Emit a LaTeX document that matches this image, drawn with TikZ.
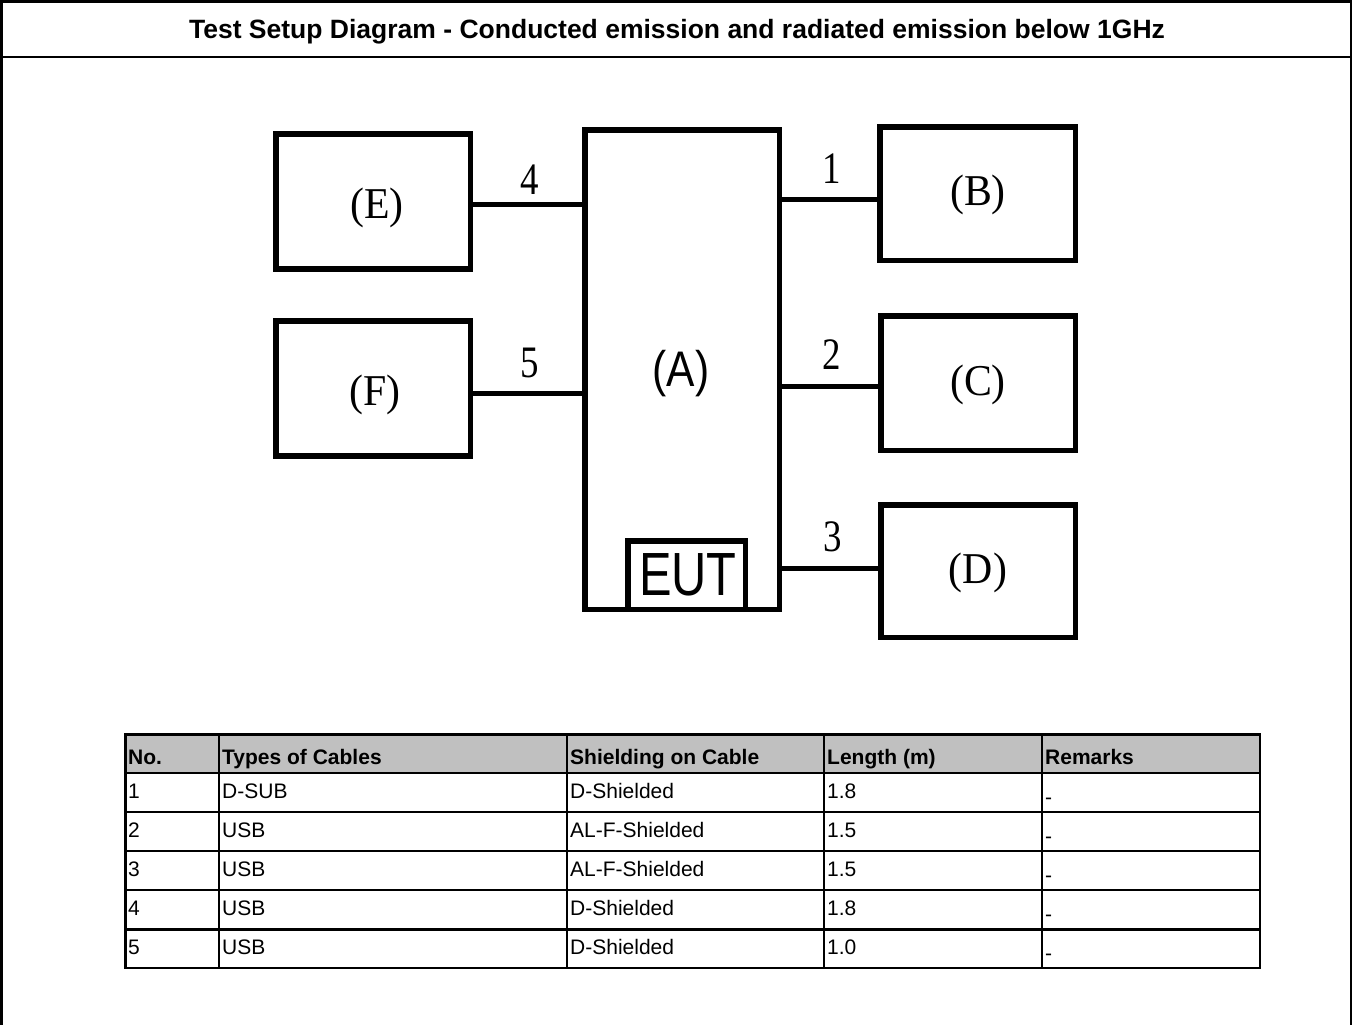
\documentclass[tikz,border=0pt]{standalone}
\usepackage{fontspec}
\setmainfont{Liberation Serif}
\newfontfamily\arial{Liberation Sans}
\definecolor{hdrgray}{RGB}{192,192,192}
\begin{document}
\begin{tikzpicture}[x=1pt,y=-1pt,
  box/.style={draw, line width=5.5pt, inner sep=0pt, minimum width=194.5pt, minimum height=135pt},
  lbl/.style={inner sep=0pt, xscale=0.95, font=\fontsize{44}{44}\selectfont},
  albl/.style={inner sep=0pt, xscale=0.85, font=\arial\fontsize{50}{50}\selectfont},
  eutlbl/.style={inner sep=0pt, xscale=0.8, font=\arial\fontsize{61}{61}\selectfont},
  num/.style={inner sep=0pt, xscale=0.82, font=\fontsize{45}{45}\selectfont},
  wire/.style={line width=5pt},
  grid/.style={line width=2.5pt},
  frame/.style={line width=2.5pt},
  hd/.style={anchor=base west, inner sep=0pt, font=\arial\bfseries\fontsize{21}{21}\selectfont},
  cell/.style={anchor=base west, inner sep=0pt, font=\arial\fontsize{21}{21}\selectfont},
]
\useasboundingbox (0,0) rectangle (1355,1025);
% outer frame
\draw[frame] (1.5,1025) -- (1.5,1.5) -- (1351,1.5) -- (1351,1025);
\draw[frame] (1.5,57) -- (1351,57);
\node[inner sep=0pt, font=\arial\bfseries\fontsize{26.5}{26.5}\selectfont] (title) at (677,32)
  {Test Setup Diagram - Conducted emission and radiated emission below 1GHz};

% boxes
\node[box] (E) at (373,201.5) {};
\node[box] (F) at (373,388.5) {};
\node[box, minimum height=479.5pt] (A) at (682,369.5) {};
\node[box, minimum height=133.5pt, minimum width=195.5pt] (B) at (977.5,193.5) {};
\node[box, minimum height=134.5pt] (C) at (978,383) {};
\node[box, minimum height=132.5pt] (D) at (978,571) {};
\node[draw, line width=5.5pt, inner sep=0pt, minimum width=117.5pt, minimum height=68.5pt] (EUT) at (686.5,575) {};

% labels
\node[lbl] (Et) at (377,208) {(E)};
\node[lbl] (Ft) at (375,395) {(F)};
\node[albl] (At) at (681,374) {(A)};
\node[lbl] (Bt) at (978,195) {(B)};
\node[lbl] (Ct) at (978,385) {(C)};
\node[lbl] (Dt) at (978,573) {(D)};
\node[eutlbl] (EUTt) at (688,575) {EUT};

% cable levels
\coordinate (y4) at (0,204);
\coordinate (y5) at (0,393);
\coordinate (y1) at (0,199);
\coordinate (y2) at (0,386);
\coordinate (y3) at (0,568);
\draw[wire] (E.east |- y4) -- (A.west |- y4);
\draw[wire] (F.east |- y5) -- (A.west |- y5);
\draw[wire] (A.east |- y1) -- (B.west |- y1);
\draw[wire] (A.east |- y2) -- (C.west |- y2);
\draw[wire] (A.east |- y3) -- (D.west |- y3);
\node[num] (n4) at (530,180) {4};
\node[num] (n5) at (530,363) {5};
\node[num] (n1) at (832,169) {1};
\node[num] (n2) at (832,355) {2};
\node[num] (n3) at (833,537) {3};

% table
\fill[hdrgray] (125.5,734.5) rectangle (1260,773);
\foreach \yy in {773,812,851,890,929.5}
  \draw[grid] (125.5,\yy) -- (1260,\yy);
\foreach \xx in {219,567,824,1042}
  \draw[grid] (\xx,734.5) -- (\xx,968);
\draw[grid] (125.5,734.5) rectangle (1260,968);

\node[hd] (h1) at (128,764) {No.};
\node[hd] (h2) at (222,764) {Types of Cables};
\node[hd] (h3) at (570,764) {Shielding on Cable};
\node[hd] (h4) at (827,764) {Length (m)};
\node[hd] (h5) at (1045,764) {Remarks};

\foreach \n/\t/\s/\l [count=\i] in {1/D-SUB/D-Shielded/1.8, 2/USB/AL-F-Shielded/1.5, 3/USB/AL-F-Shielded/1.5, 4/USB/D-Shielded/1.8, 5/USB/D-Shielded/1.0}{
  \pgfmathsetmacro\yb{798+(\i-1)*39.1}
  \pgfmathsetmacro\yr{804+(\i-1)*39.1}
  \node[cell] (r\i c1) at (128,\yb) {\n};
  \node[cell] (r\i c2) at (222,\yb) {\t};
  \node[cell] (r\i c3) at (570,\yb) {\s};
  \node[cell] (r\i c4) at (827,\yb) {\l};
  \node[cell] (r\i c5) at (1045,\yr) {-};
}
\end{tikzpicture}
\end{document}
